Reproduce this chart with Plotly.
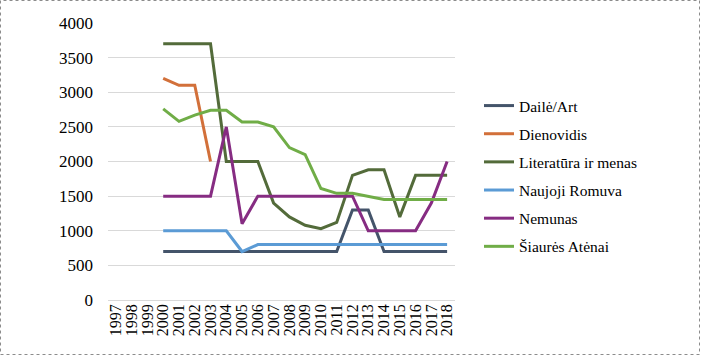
import plotly.graph_objects as go

years = [str(y) for y in range(1997, 2019)]
N = None
daile = [N, N, N, 700, 700, 700, 700, 700, 700, 700, 700, 700, 700, 700, 700, 1300, 1300, 700, 700, 700, 700, 700]
dienovidis = [N, N, N, 3200, 3100, 3100, 2000, N, N, N, N, N, N, N, N, N, N, N, N, N, N, N]
literatura = [N, N, N, 3700, 3700, 3700, 3700, 2000, 2000, 2000, 1400, 1200, 1080, 1030, 1120, 1800, 1880, 1880, 1200, 1800, 1800, 1800]
romuva = [N, N, N, 1000, 1000, 1000, 1000, 1000, 700, 800, 800, 800, 800, 800, 800, 800, 800, 800, 800, 800, 800, 800]
nemunas = [N, N, N, 1500, 1500, 1500, 1500, 2500, 1100, 1500, 1500, 1500, 1500, 1500, 1500, 1500, 1000, 1000, 1000, 1000, 1400, 2000]
atenai = [N, N, N, 2760, 2580, 2670, 2740, 2740, 2570, 2570, 2500, 2200, 2100, 1610, 1540, 1540, 1490, 1450, 1450, 1450, 1450, 1450]

series = [
    ("Dailė/Art", daile, "#44546A"),
    ("Dienovidis", dienovidis, "#D2703A"),
    ("Literatūra ir menas", literatura, "#536B3A"),
    ("Naujoji Romuva", romuva, "#5B9BD5"),
    ("Nemunas", nemunas, "#862C82"),
    ("Šiaurės Atėnai", atenai, "#70AD47"),
]

fig = go.Figure()
for i, (name, vals, col) in enumerate(series):
    fig.add_trace(go.Scatter(x=years, y=vals, name=name, mode="lines",
                             line=dict(color=col, width=3), legendgroup=str(i)))

L, R, T, B = 108, 246, 23, 56
W, H = 701, 356
pw, ph = W - L - R, H - T - B

FONT = "Times New Roman, Liberation Serif, Tinos, DejaVu Serif, serif"
fig.update_layout(
    width=W, height=H,
    margin=dict(l=L, r=R, t=T, b=B),
    plot_bgcolor="white", paper_bgcolor="white",
    font=dict(family=FONT, size=15, color="#000"),
    legend=dict(x=(479 - L) / pw, xanchor="left", y=(300 - 176) / ph, yanchor="middle",
                font=dict(family=FONT, size=15.5), tracegroupgap=5, itemwidth=30),
    xaxis=dict(type="category", tickangle=-90, showgrid=False, showline=False,
               tickmode="array", tickvals=years, ticktext=years, automargin=False,
               tickfont=dict(family=FONT, size=16), ticks="", range=[-0.5, 21.5]),
    yaxis=dict(range=[0, 4000], dtick=500, showgrid=True, gridcolor="#D9D9D9", gridwidth=1,
               zeroline=True, zerolinecolor="#D9D9D9", zerolinewidth=1, showline=False,
               automargin=False, ticks="", ticklabelstandoff=14,
               tickfont=dict(family=FONT, size=17)),
    shapes=[dict(type="rect", xref="paper", yref="paper",
                 x0=(0.5 - L) / pw, x1=(W - 1.5 - L) / pw,
                 y0=(300 - (H - 1.5)) / ph, y1=(300 - 0.5) / ph,
                 line=dict(color="#8c8c8c", width=1, dash="dot"), layer="below")],
)

fig.write_html("out.html", config={"displayModeBar": False},
               post_script="document.body.style.margin='0';")
